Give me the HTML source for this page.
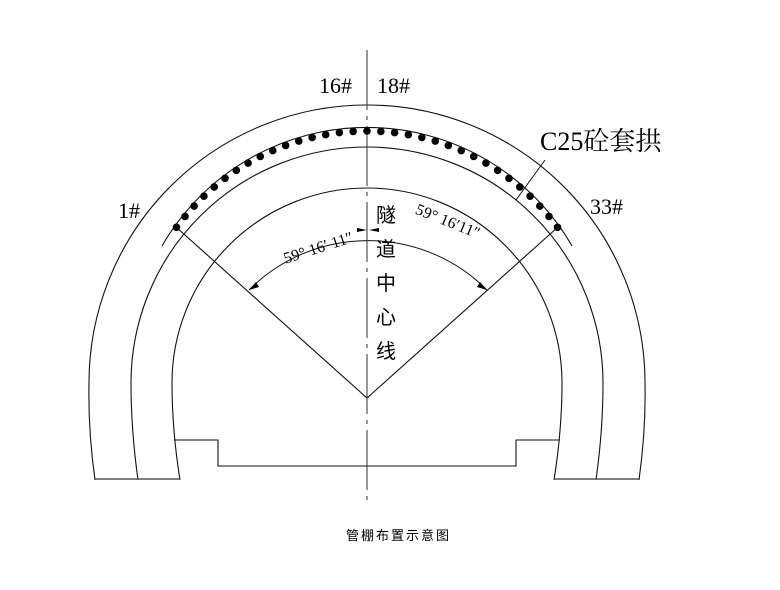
<!DOCTYPE html>
<html><head><meta charset="utf-8"><style>body{margin:0;background:#fff}</style></head><body>
<svg width="780" height="585" viewBox="0 0 780 585" xmlns="http://www.w3.org/2000/svg" font-family="Liberation Serif, Noto Serif CJK SC, serif">
<g fill="none" stroke="#111" stroke-width="1.1">
<path d="M95 480 Q88 430 89 383 A278 278 0 0 1 645 383 Q646 430 639 480"/>
<path d="M138 480 Q131 430 131 383 A236 236 0 0 1 603 383 Q603 430 596 480"/>
<path d="M180 480 Q172 430 172 383 A195 195 0 0 1 562 383 Q562 430 554 480"/>
<path d="M95 479 H180 M554 479 H639" stroke="#555" stroke-width="1.5"/>
<path d="M174 440 H218 V466 H516 V440 H560"/>
<path d="M162 246 A236.5 236.5 0 0 1 572 246"/>
<path d="M176 227 L367 398 L558 227"/>
<path d="M249 290 A168 168 0 0 1 487 290" stroke-width="1"/>
<path d="M516 200 L545 160" stroke-width="1"/>
<path d="M367 50 V500" stroke="#444" stroke-dasharray="60 6 4 6"/>
</g>
<g id="dots" fill="#000"></g>
<polygon points="249,290 256,282 259,287" fill="#000"/>
<polygon points="487,290 480,282 477,287" fill="#000"/>
<polygon points="367,230 357,228 357,232" fill="#000"/>
<polygon points="369,230 379,228 379,232" fill="#000"/>
<g font-size="22" fill="#000">
<text x="319" y="93">16#</text>
<text x="377" y="93">18#</text>
<text x="118" y="218">1#</text>
<text x="590" y="214">33#</text>
<text x="540" y="150" font-size="26">C25砼套拱</text>
</g>
<g font-size="20" font-family="Noto Sans CJK SC, sans-serif">
<text x="376" y="222">隧</text><text x="376" y="256">道</text><text x="376" y="290">中</text><text x="376" y="324">心</text><text x="376" y="358">线</text>
</g>
<text x="280" y="252" font-size="16" transform="rotate(-18 320 240)">59°  16′ 11″</text>
<text x="410" y="224" font-size="16" transform="rotate(22 440 230)">59°   16′11″</text>
<text x="346" y="540" font-size="13" font-family="Noto Sans CJK SC, sans-serif" letter-spacing="2">管棚布置示意图</text>
<script>
var g=document.getElementById('dots'),cx=367,cy=367.5,r=236.5,a0=-Math.atan2(191,140.5);
for(var i=0;i<33;i++){var a=a0+(-2*a0)*i/32;var c=document.createElementNS('http://www.w3.org/2000/svg','circle');c.setAttribute('cx',cx+r*Math.sin(a));c.setAttribute('cy',cy-r*Math.cos(a));c.setAttribute('r',3.8);g.appendChild(c);}
</script>
</svg>
</body></html>
